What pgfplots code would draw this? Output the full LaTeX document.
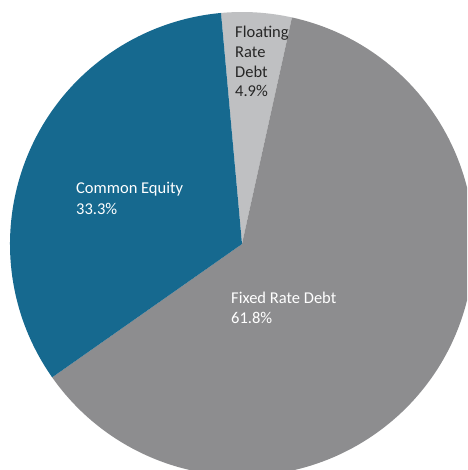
\documentclass[border=0pt]{standalone}
\usepackage{pgfplots}
\pgfplotsset{compat=1.18}
\usepackage{pgfplotstable}
\usepackage{fontspec}
\setmainfont{Carlito}

\definecolor{equity}{RGB}{22,105,143}
\definecolor{fixed}{RGB}{141,141,143}
\definecolor{floating}{RGB}{191,192,194}
\definecolor{darktext}{RGB}{38,38,38}

% capital structure shares, percent
\pgfplotstableread{
share
4.9
61.8
33.3
}\piedata

\begin{document}
\begin{tikzpicture}[font=\fontsize{16.5}{20}\selectfont]
\pgfplotstablegetelem{0}{share}\of\piedata \let\vFloat\pgfplotsretval
\pgfplotstablegetelem{1}{share}\of\piedata \let\vFixed\pgfplotsretval
\pgfplotstablegetelem{2}{share}\of\piedata \let\vEquity\pgfplotsretval
\pgfmathsetmacro\aA{95.2}
\pgfmathsetmacro\aB{\aA-3.6*\vFloat}
\pgfmathsetmacro\aC{\aB-3.6*\vFixed}
\pgfmathsetmacro\aD{\aC-3.6*\vEquity}
\begin{axis}[
    x=1pt, y=1pt,
    xmin=0, xmax=467, ymin=0, ymax=470,
    hide axis, clip=true,
  ]
  \fill[floating] (axis cs:242,226) -- ++(\aA:232pt)
    arc[start angle=\aA, end angle=\aB, radius=232pt] -- cycle;
  \fill[fixed] (axis cs:242,226) -- ++(\aB:232pt)
    arc[start angle=\aB, end angle=\aC, radius=232pt] -- cycle;
  \fill[equity] (axis cs:242,226) -- ++(\aC:232pt)
    arc[start angle=\aC, end angle=\aD, radius=232pt] -- cycle;

  \begin{scope}[every node/.style={anchor=base west, inner sep=0pt}]
    \node[text=darktext] at (axis cs:235,432) {Floating};
    \node[text=darktext] at (axis cs:235,412) {Rate};
    \node[text=darktext] at (axis cs:235,392) {Debt};
    \node[text=darktext] at (axis cs:235,373) {4.9\%};
    \node[text=white] at (axis cs:76,276) {Common Equity};
    \node[text=white] at (axis cs:76,255) {33.3\%};
    \node[text=white] at (axis cs:231,166) {Fixed Rate Debt};
    \node[text=white] at (axis cs:231,146) {61.8\%};
  \end{scope}
  \coordinate (bl) at (rel axis cs:0,0);
  \coordinate (tr) at (rel axis cs:1,1);
\end{axis}
\pgfresetboundingbox
\useasboundingbox (bl) rectangle (tr);
\end{tikzpicture}
\end{document}
